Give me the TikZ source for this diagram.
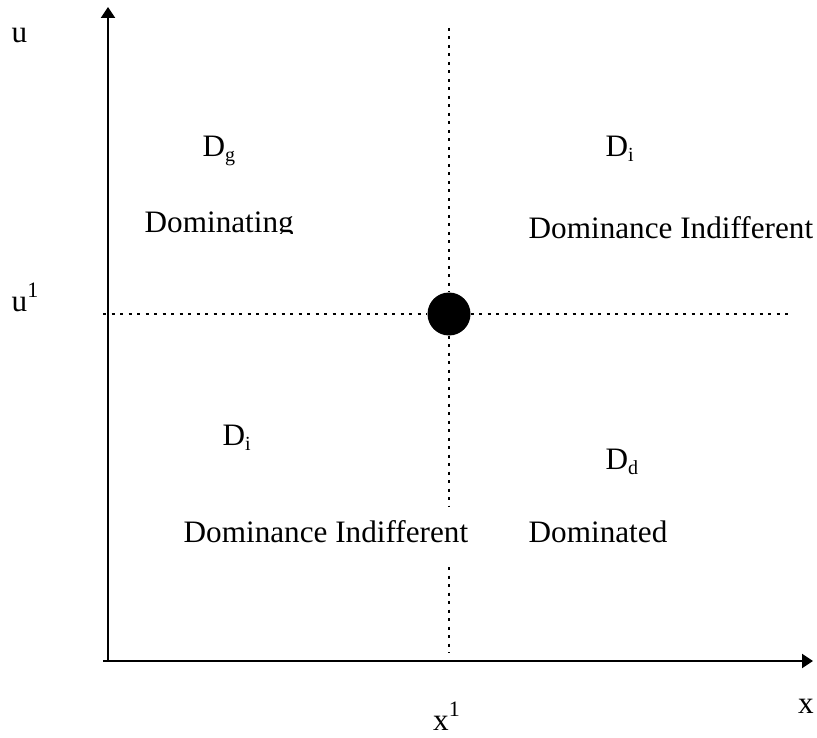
\documentclass[tikz,border=0pt]{standalone}
\usepackage{fontspec}
\setmainfont{Liberation Serif}
\usetikzlibrary{arrows.meta}
\newcommand{\mysub}[1]{\raisebox{-5pt}{\fontsize{20}{20}\selectfont #1}}
\newcommand{\mysup}[1]{\raisebox{14pt}{\fontsize{22}{22}\selectfont #1}}
\begin{document}
\begin{tikzpicture}[x=1pt,y=-1pt,
  lbl/.style={anchor=base west,inner sep=0pt,font=\fontsize{31.2}{36}\selectfont},
  axis/.style={line width=2pt,-{Triangle[length=11pt,width=14pt]}},
  dots/.style={line width=2.5pt,dash pattern=on 3pt off 5.5pt},
  dotpt/.style={circle,fill=black,inner sep=0pt,minimum size=43pt}]
\useasboundingbox (0,0) rectangle (817,738);
% axes
\coordinate (O) at (108,661);
\coordinate (ytip) at (108,7);
\coordinate (xstart) at (103,661);
\coordinate (xtip) at (813,661);
\draw[axis] (O) -- (ytip);
\draw[axis] (xstart) -- (xtip);
% point
\node[dotpt] (pt) at (449,314) {};
% dotted guides
\coordinate (vt) at (449,28);
\coordinate (vg1) at (449,506);
\coordinate (vg2) at (449,567);
\coordinate (vb) at (449,653);
\coordinate (hl) at (103,314);
\coordinate (hr) at (788,314);
\draw[dots] (vt) -- (pt);
\draw[dots] (pt) -- (vg1);
\draw[dots] (vg2) -- (vb);
\draw[dots] (hl) -- (pt);
\draw[dots] (pt) -- (hr);
% axis labels
\node[lbl] (u) at (11.5,43) {u};
\node[lbl] (u1) at (11.5,312) {u\mysup{1}};
\node[lbl] (x) at (798,713) {x};
\node[lbl] (x1) at (433,730) {x\mysup{1}};
% region labels
\node[lbl] (Dg) at (202.5,157) {D\mysub{g}};
\begin{scope}
\clip (130,190) rectangle (320,234);
\node[lbl] (dom) at (144.5,233) {Dominating};
\end{scope}
\node[lbl] (Di1) at (605.5,157) {D\mysub{i}};
\node[lbl] (ind1) at (528.5,239) {Dominance Indifferent};
\node[lbl] (Di2) at (222.5,445) {D\mysub{i}};
\node[lbl] (Dd) at (605.5,469) {D\mysub{d}};
\node[lbl] (ind2) at (183.5,542) {Dominance Indifferent};
\node[lbl] (dtd) at (528.5,542) {Dominated};
\end{tikzpicture}
\end{document}
